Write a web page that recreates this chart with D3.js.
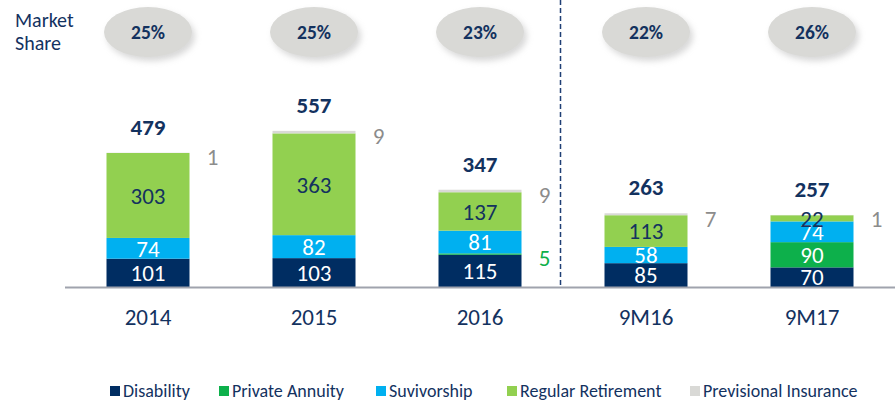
<!DOCTYPE html>
<html>
<head>
<meta charset="utf-8">
<script src="https://cdn.jsdelivr.net/npm/d3@7"></script>
<style>
  html, body { margin: 0; padding: 0; background: #ffffff; }
  svg { display: block; font-family: Carlito, Calibri, Lato, "Open Sans", sans-serif; }
</style>
</head>
<body>
<svg id="chart" width="895" height="402"></svg>
<script>
// Periods and market share per period
const periods = ["2014", "2015", "2016", "9M16", "9M17"];
const marketShare = ["25%", "25%", "23%", "22%", "26%"];

// Premiums by product line, stacked bottom to top
const seriesNames = ["Disability", "Private Annuity", "Suvivorship", "Regular Retirement", "Previsional Insurance"];
const disability = [101, 103, 115, 85, 70];
const privateAnnuity = [0, 0, 5, 0, 90];
const survivorship = [74, 82, 81, 58, 74];
const regularRetirement = [303, 363, 137, 113, 22];
const previsionalInsurance = [1, 9, 9, 7, 1];
const totals = [479, 557, 347, 263, 257];

const colors = ["#002d62", "#0db04b", "#00b0f0", "#92d050", "#d9d9d6"];
const insideText = ["#ffffff", "#ffffff", "#ffffff", "#13325f", "#13325f"];
const outsideText = ["#13325f", "#0db04b", "#13325f", "#13325f", "#8c8c8c"];
const navy = "#13325f";
const fontStack = "Carlito, Calibri, Lato, 'Open Sans', sans-serif";

const seriesValues = [disability, privateAnnuity, survivorship, regularRetirement, previsionalInsurance];
const table = periods.map((p, i) => {
  const row = { period: p };
  seriesNames.forEach((s, j) => row[s] = seriesValues[j][i]);
  return row;
});

const svg = d3.select("#chart");

const defs = svg.append("defs");
const shadow = defs.append("filter").attr("id", "shade")
  .attr("x", "-30%").attr("y", "-30%").attr("width", "170%").attr("height", "180%");
shadow.append("feDropShadow")
  .attr("dx", 3).attr("dy", 4).attr("stdDeviation", 3)
  .attr("flood-color", "#a8a8a8").attr("flood-opacity", 0.45);

const x = d3.scaleBand().domain(periods).range([65, 895]).paddingInner(0.5).paddingOuter(0.25);
const y = d3.scaleLinear().domain([0, 600]).range([287, 118.8]);

const stacked = d3.stack().keys(seriesNames)(table);

// Bars
const layers = svg.append("g").selectAll("g")
  .data(stacked).join("g")
  .attr("fill", (d, i) => colors[i]);

layers.selectAll("rect")
  .data(d => d.filter(s => s[1] - s[0] > 0))
  .join("rect")
  .attr("x", d => x(d.data.period))
  .attr("width", x.bandwidth())
  .attr("y", d => y(d[1]))
  .attr("height", d => y(d[0]) - y(d[1]));

// Segment labels: large segments inside, small ones beside the bar
stacked.forEach((layer, i) => {
  layer.forEach(seg => {
    const v = seg[1] - seg[0];
    if (v <= 0) return;
    const cy = (y(seg[0]) + y(seg[1])) / 2;
    if (v >= 10) {
      svg.append("text")
        .attr("x", x(seg.data.period) + x.bandwidth() / 2)
        .attr("y", cy)
        .attr("dy", "0.36em")
        .attr("text-anchor", "middle")
        .attr("font-size", 23)
        .attr("fill", insideText[i])
        .text(v);
    } else {
      svg.append("text")
        .attr("x", x(seg.data.period) + x.bandwidth() + 23)
        .attr("y", cy + 4)
        .attr("dy", "0.36em")
        .attr("text-anchor", "middle")
        .attr("font-size", 23)
        .attr("fill", outsideText[i])
        .text(v);
    }
  });
});

// Totals above each bar
svg.append("g").selectAll("text")
  .data(periods).join("text")
  .attr("x", p => x(p) + x.bandwidth() / 2)
  .attr("y", (p, i) => y(totals[i]) - 18)
  .attr("text-anchor", "middle")
  .attr("font-size", 23)
  .attr("font-weight", "bold")
  .attr("fill", navy)
  .text((p, i) => totals[i]);

// Baseline and category axis
const axis = svg.append("g").attr("transform", `translate(0,${y(0)})`)
  .call(d3.axisBottom(x).tickSize(0).tickPadding(22));
axis.select(".domain").attr("stroke", "#a0a3ad").attr("stroke-width", 2)
  .attr("d", "M65,0.5H895");
axis.selectAll("text")
  .attr("font-size", 23)
  .attr("font-family", fontStack)
  .attr("fill", navy);

// Divider between full years and nine-month periods
const divX = (x("2016") + x("9M16")) / 2 + x.bandwidth() / 2 - 2.5;
svg.append("line")
  .attr("x1", divX).attr("x2", divX)
  .attr("y1", 0).attr("y2", y(0) - 1)
  .attr("stroke", "#1f3f75").attr("stroke-width", 1.5)
  .attr("stroke-dasharray", "5,3");

// Market share bubbles
svg.append("text")
  .attr("x", 15).attr("y", 20).attr("dy", "0.36em")
  .attr("font-size", 20).attr("fill", navy).text("Market");
svg.append("text")
  .attr("x", 15).attr("y", 43).attr("dy", "0.36em")
  .attr("font-size", 20).attr("fill", navy).text("Share");

const bubbles = svg.append("g").selectAll("g")
  .data(periods).join("g")
  .attr("transform", p => `translate(${x(p) + x.bandwidth() / 2},32)`);
bubbles.append("ellipse")
  .attr("rx", 44).attr("ry", 25)
  .attr("fill", "#d9d9d6")
  .attr("filter", "url(#shade)");
bubbles.append("text")
  .attr("dy", "0.36em")
  .attr("text-anchor", "middle")
  .attr("font-size", 19.5)
  .attr("font-weight", "bold")
  .attr("fill", navy)
  .text((p, i) => marketShare[i]);

// Legend
const legendX = [110, 219, 376, 507, 690];
const legend = svg.append("g").selectAll("g")
  .data(seriesNames).join("g")
  .attr("transform", (d, i) => `translate(${legendX[i]},386)`);
legend.append("rect")
  .attr("width", 10).attr("height", 10)
  .attr("fill", (d, i) => colors[i]);
legend.append("text")
  .attr("x", 13).attr("y", 5).attr("dy", "0.34em")
  .attr("font-size", 18)
  .attr("fill", navy)
  .text(d => d);
</script>
</body>
</html>
